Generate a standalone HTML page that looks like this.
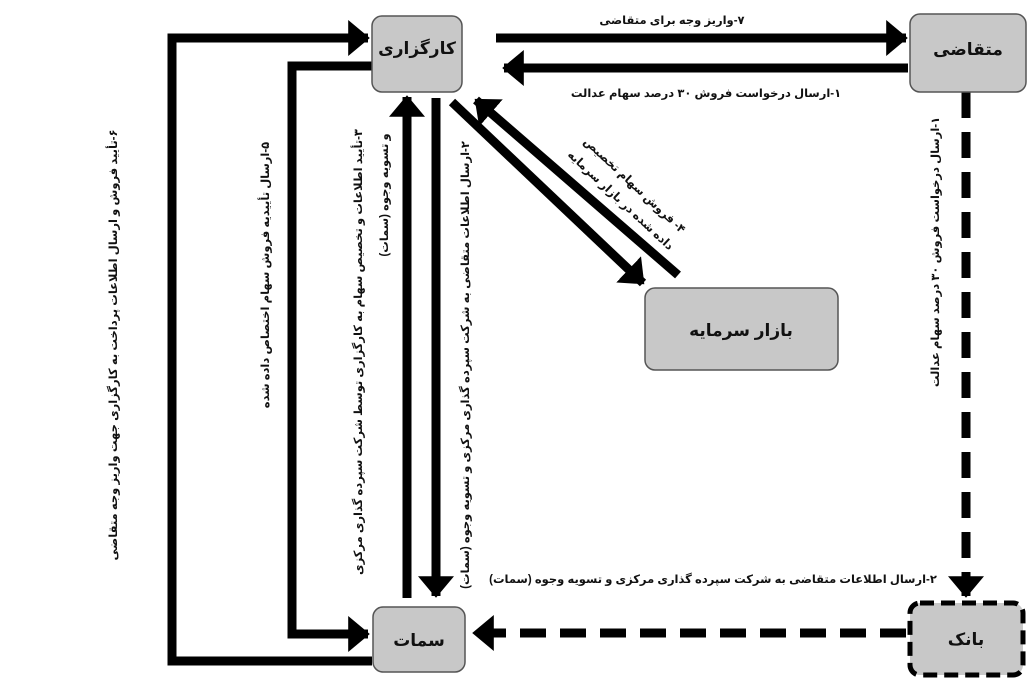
<!DOCTYPE html>
<html><head><meta charset="utf-8"><style>
html,body{margin:0;padding:0;background:#fff;}
svg{display:block;}
text{font-family:"Liberation Sans","DejaVu Sans",sans-serif;font-weight:bold;fill:#111;direction:rtl;unicode-bidi:embed;}
</style></head><body>
<svg width="1030" height="683" viewBox="0 0 1030 683" xmlns="http://www.w3.org/2000/svg">
<defs>
<marker id="ah" markerWidth="4" markerHeight="4" refX="2.2" refY="2" orient="auto" markerUnits="strokeWidth">
<path d="M0,0 L2.4,2 L0,4 Z" fill="#000"/></marker>
</defs>
<g stroke="#000" stroke-width="9" fill="none">
<line x1="496" y1="38" x2="906" y2="38" marker-end="url(#ah)"/>
<line x1="908" y1="68" x2="504" y2="68" marker-end="url(#ah)"/>
<polyline points="372,661 172,661 172,38 368,38" marker-end="url(#ah)"/>
<polyline points="372,66 292,66 292,634 368,634" marker-end="url(#ah)"/>
<line x1="407" y1="598" x2="407" y2="97" marker-end="url(#ah)"/>
<line x1="436" y1="98" x2="436" y2="596" marker-end="url(#ah)"/>
<line x1="452" y1="102" x2="643" y2="283" marker-end="url(#ah)"/>
<line x1="678" y1="275" x2="476" y2="100" marker-end="url(#ah)"/>
<line x1="966" y1="92" x2="966" y2="596" stroke-dasharray="26,14" marker-end="url(#ah)"/>
<line x1="906" y1="633" x2="474" y2="633" stroke-dasharray="26,14" marker-end="url(#ah)"/>
</g>
<g stroke="#555" stroke-width="1.5" fill="#c8c8c8">
<rect x="372" y="16" width="90" height="76" rx="10"/>
<rect x="910" y="14" width="116" height="78" rx="10"/>
<rect x="645" y="288" width="193" height="82" rx="10"/>
<rect x="373" y="607" width="92" height="65" rx="10"/>
</g>
<rect x="910" y="603" width="113" height="72" rx="10" fill="#c8c8c8" stroke="#000" stroke-width="5" stroke-dasharray="14,7"/>
<g text-anchor="middle" font-size="17">
<text x="417" y="54">کارگزاری</text>
<text x="968" y="55">متقاضی</text>
<text x="741" y="336">بازار سرمایه</text>
<text x="419" y="646">سمات</text>
<text x="966" y="645">بانک</text>
</g>
<g text-anchor="middle" font-size="11.5">
<text x="672" y="24">۷-واریز وجه برای متقاضی</text>
<text x="706" y="97">۱-ارسال درخواست فروش ۳۰ درصد سهام عدالت</text>
<text x="713" y="583">۲-ارسال اطلاعات متقاضی به شرکت سپرده گذاری مرکزی و تسویه وجوه (سمات)</text>
<text transform="translate(939,252) rotate(-90)">۱-ارسال درخواست فروش ۳۰ درصد سهام عدالت</text>
<text transform="translate(117,345) rotate(-90)">۶-تأیید فروش و ارسال اطلاعات پرداخت به کارگزاری جهت واریز وجه متقاضی</text>
<text transform="translate(269,275) rotate(-90)">۵-ارسال تأییدیه فروش سهام اختصاص داده شده</text>
<text transform="translate(362,352) rotate(-90)">۳-تأیید اطلاعات و تخصیص سهام به کارگزاری توسط شرکت سپرده گذاری مرکزی</text>
<text transform="translate(388,195) rotate(-90)">و تسویه وجوه (سمات)</text>
<text transform="translate(469,365) rotate(-90)">۲-ارسال اطلاعات متقاضی به شرکت سپرده گذاری مرکزی و تسویه وجوه (سمات)</text>
<text transform="translate(632,188) rotate(43)">۴- فروش سهام تخصیص</text>
<text transform="translate(618,203) rotate(43)">داده شده در بازار سرمایه</text>
</g>
</svg>
</body></html>
